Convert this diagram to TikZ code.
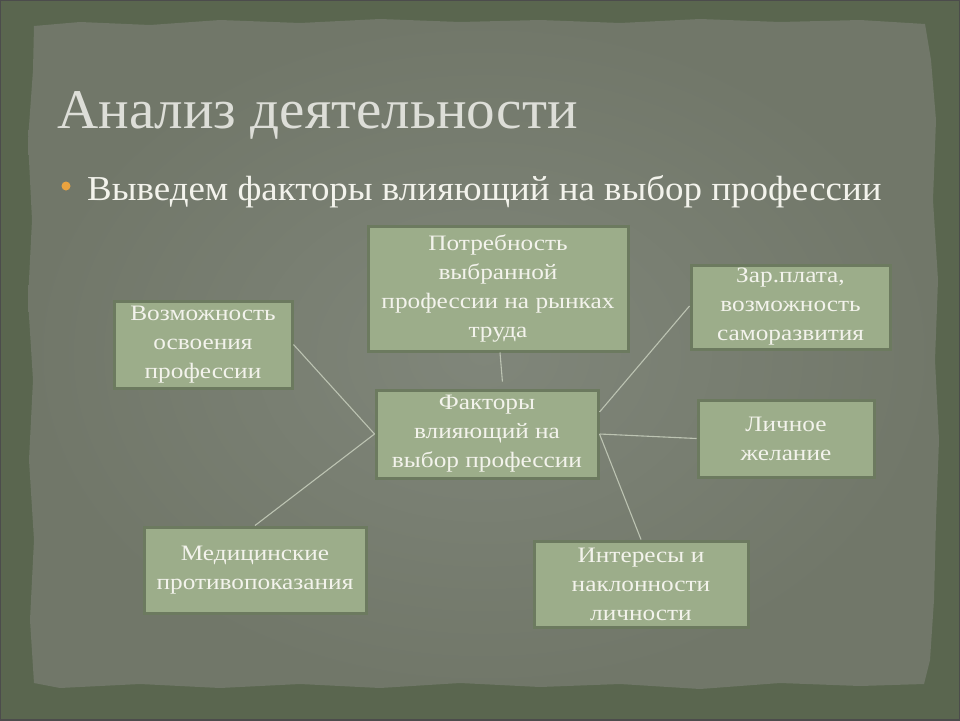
\documentclass[tikz,border=0pt]{standalone}
\usepackage{fontspec}
\setmainfont{Liberation Serif}
\newfontfamily\titlefont[FakeStretch=1.02]{Liberation Serif}
\newfontfamily\bulfont[FakeStretch=1.055]{Liberation Serif}
\newfontfamily\boxfont[FakeStretch=1.15]{Liberation Serif}
\usetikzlibrary{calc}
\definecolor{frameC}{HTML}{5A664F}
\definecolor{paperIn}{HTML}{80867A}
\definecolor{paperOut}{HTML}{717769}
\definecolor{boxFill}{HTML}{9CAD8A}
\definecolor{boxLine}{HTML}{6C7A5F}
\definecolor{boxText}{HTML}{F3F3EC}
\definecolor{linkC}{HTML}{BCC3B2}
\definecolor{titleC}{HTML}{DDDED8}
\definecolor{bulletC}{HTML}{EBA33F}
\tikzset{
  factor/.style={draw=boxLine, line width=3pt, fill=boxFill, text=boxText,
    align=center, inner sep=0pt, font=\boxfont\fontsize{22}{29}\selectfont},
  link/.style={draw=linkC, line width=1.1pt}
}
\begin{document}
\begin{tikzpicture}[x=1pt,y=-1pt]
\useasboundingbox (0,0) rectangle (960,720);
\fill[frameC] (0,0) rectangle (960,720);
\draw[black!70, line width=2pt] (0,0) rectangle (960,720);
\shade[inner color=paperIn, outer color=paperOut]
  (34,26) -- (80,22) -- (150,25) -- (220,20) -- (300,23) -- (380,19) -- (460,22) -- (540,20) -- (620,23) -- (700,19) -- (780,22) -- (860,20) -- (925,24)
  -- (931,60) -- (936,120) -- (933,200) -- (938,280) -- (935,360) -- (939,440) -- (936,520) -- (934,600) -- (930,660) -- (924,684)
  -- (860,686) -- (780,683) -- (700,689) -- (620,684) -- (540,687) -- (460,683) -- (380,688) -- (300,684) -- (220,688) -- (140,684) -- (60,688) -- (34,683)
  -- (30,620) -- (34,540) -- (29,460) -- (33,380) -- (28,300) -- (32,220) -- (28,140) -- (33,70) -- cycle;

\node[anchor=base west, text=titleC, inner sep=0pt, font=\titlefont\fontsize{56}{60}\selectfont] (title) at (57,128) {Анализ деятельности};
\fill[bulletC] (66,186) circle (4.5);
\node[anchor=base west, text=boxText, inner sep=0pt, font=\bulfont\fontsize{35}{40}\selectfont] (bul) at (87,200) {Выведем факторы влияющий на выбор профессии};

\node[factor, minimum width=260pt, minimum height=125pt] (b1) at (498,288.5) {Потребность\\выбранной\\профессии на рынках\\труда};
\node[factor, minimum width=178pt, minimum height=87pt] (b2) at (203,344.5) {Возможность\\освоения\\профессии};
\node[factor, minimum width=199pt, minimum height=84pt] (b3) at (790.5,307) {Зар.плата,\\возможность\\саморазвития};
\node[factor, minimum width=222pt, minimum height=88pt] (c) at (487,434) {Факторы\\влияющий на\\выбор профессии};
\node[factor, minimum width=176pt, minimum height=77pt] (b5) at (786,438.5) {Личное\\желание};
\node[factor, minimum width=222pt, minimum height=86pt] (b6) at (255,570) {Медицинские\\противопоказания};
\node[factor, minimum width=214pt, minimum height=86pt] (b7) at (641,584) {Интересы и\\наклонности\\личности};

\draw[link, shorten >=7pt] ([xshift=2pt]b1.south) -- ([xshift=16pt]c.north);
\draw[link] (b2.east) -- (c.west);
\draw[link] (c.west) -- (b6.north);
\draw[link] ([yshift=22pt]c.east) -- ([yshift=1pt]b3.west);
\draw[link] (c.east) -- (b5.west);
\draw[link] (c.east) -- (b7.north);
\end{tikzpicture}
\end{document}
